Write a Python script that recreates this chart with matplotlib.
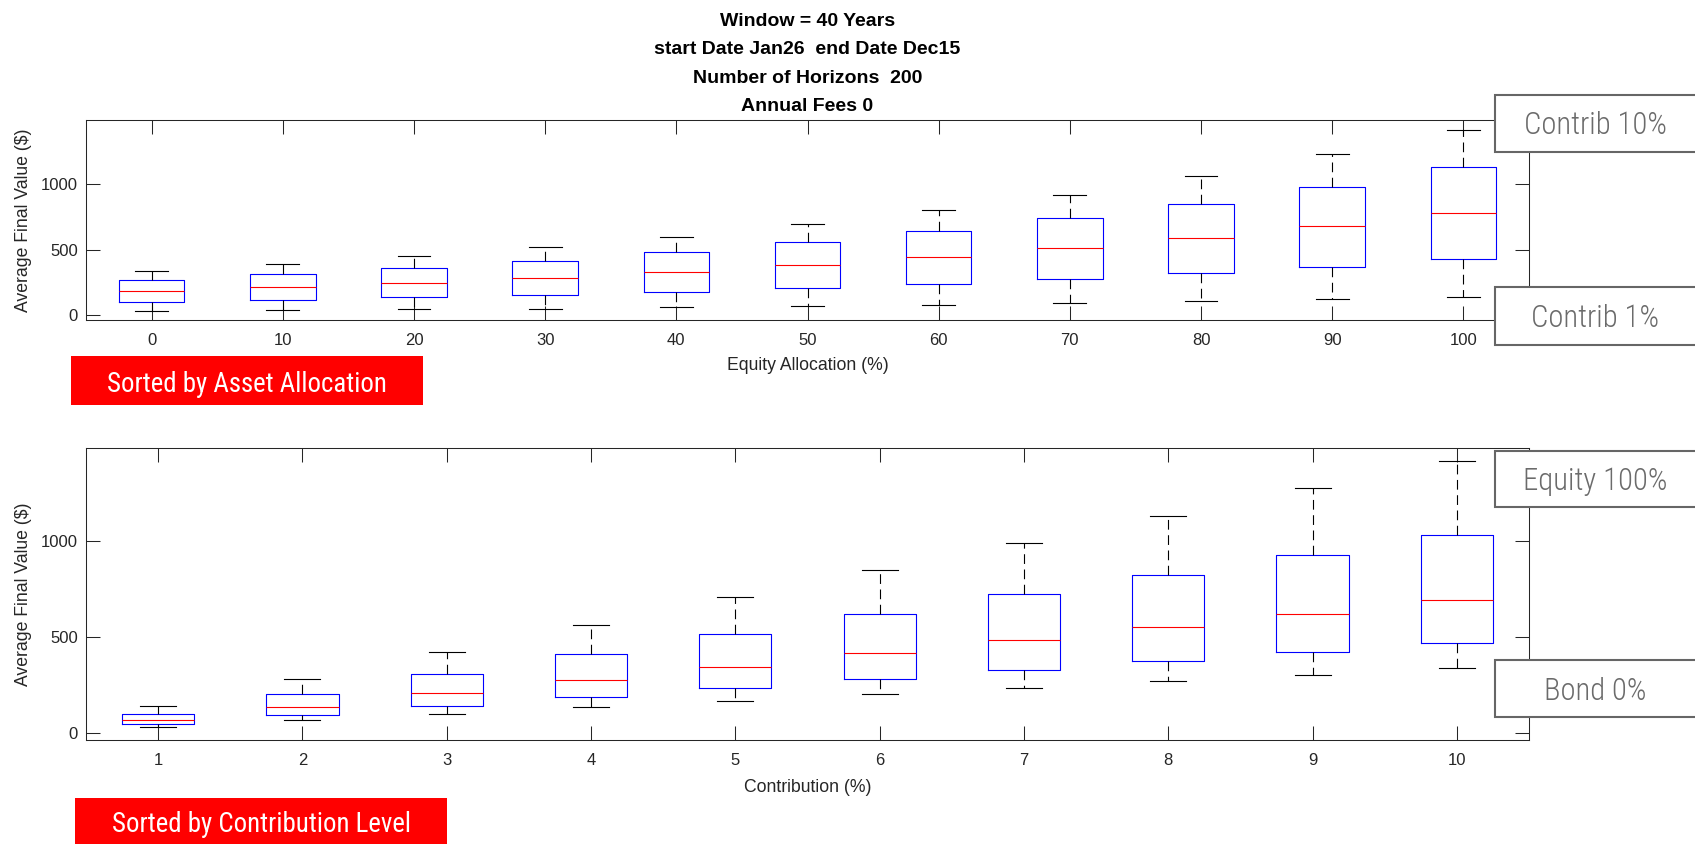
import matplotlib
matplotlib.use('Agg')
from matplotlib import pyplot as plt
from matplotlib import font_manager
from matplotlib.patches import Rectangle

plt.rcParams['font.family'] = ['Liberation Sans', 'DejaVu Sans']
plt.rcParams['lines.scale_dashes'] = False

# equity allocation panel
alloc_labels = ['0', '10', '20', '30', '40', '50', '60', '70', '80', '90', '100']
alloc_whishi = [340, 394, 453, 520, 599, 693, 802, 921, 1066, 1231, 1414]
alloc_q3 = [272, 313, 361, 416, 480, 556, 640, 739, 850, 982, 1129]
alloc_med = [188, 216, 249, 286, 330, 381, 442, 510, 586, 678, 777]
alloc_q1 = [104, 117, 137, 157, 180, 206, 241, 276, 320, 368, 426]
alloc_whislo = [35, 40, 46, 50, 61, 68, 78, 94, 107, 124, 142]

# contribution panel
contrib_labels = ['1', '2', '3', '4', '5', '6', '7', '8', '9', '10']
contrib_whishi = [142, 282, 424, 565, 707, 848, 990, 1130, 1272, 1414]
contrib_q3 = [102, 204, 307, 411, 515, 619, 721, 823, 926, 1028]
contrib_med = [69, 138, 208, 277, 345, 416, 484, 553, 622, 692]
contrib_q1 = [47, 94, 140, 187, 234, 281, 328, 374, 421, 468]
contrib_whislo = [34, 68, 100, 135, 170, 203, 237, 272, 305, 338]

W, H = 1695, 844
fig = plt.figure(figsize=(W / 100, H / 100), dpi=100)
dark = '#262626'


def px_box(x0, y0, x1, y1):
    # pixel box (from top-left) -> figure fraction
    return [x0 / W, 1 - y1 / H, (x1 - x0) / W, (y1 - y0) / H]


def draw_panel(ax, labels, lo, q1, med, q3, hi, ylim, xlabel):
    stats = [dict(whislo=a, q1=b, med=c, q3=d, whishi=e, fliers=[])
             for a, b, c, d, e in zip(lo, q1, med, q3, hi)]
    pos = list(range(1, len(labels) + 1))
    ax.bxp(stats, positions=pos, widths=0.5, capwidths=0.25, showfliers=False,
           boxprops=dict(color='blue', linewidth=0.8),
           medianprops=dict(color='red', linewidth=0.8),
           whiskerprops=dict(color='black', linewidth=0.8, linestyle=(0, (7, 4))),
           capprops=dict(color='black', linewidth=0.8))
    ax.set_xticks(pos, labels)
    ax.set_xlim(0.5, len(labels) + 0.5)
    ax.set_ylim(*ylim)
    ax.set_yticks([0, 500, 1000])
    ax.tick_params(direction='in', length=10.4, width=0.75, colors=dark,
                   top=True, right=True, labelsize=12)
    ax.tick_params(axis='x', pad=9.5)
    ax.tick_params(axis='y', pad=6)
    for s in ax.spines.values():
        s.set_linewidth(0.75)
        s.set_color(dark)
    ax.set_xlabel(xlabel, fontsize=12.7, color=dark, labelpad=6)
    ax.set_ylabel('Average Final Value ($)', fontsize=12.7, color=dark, labelpad=6.5)


ax1 = fig.add_axes(px_box(86, 120, 1529, 320))
draw_panel(ax1, alloc_labels, alloc_whislo, alloc_q1, alloc_med, alloc_q3, alloc_whishi,
           (-36, 1490), 'Equity Allocation (%)')
ax1.set_title('Window = 40 Years\nstart Date Jan26  end Date Dec15\n'
              'Number of Horizons  200\nAnnual Fees 0',
              fontsize=14, fontweight='bold', linespacing=1.88, pad=6.5)

ax2 = fig.add_axes(px_box(86, 448, 1529, 740))
draw_panel(ax2, contrib_labels, contrib_whislo, contrib_q1, contrib_med, contrib_q3,
           contrib_whishi, (-35, 1482), 'Contribution (%)')
ax2.xaxis.labelpad = 7.5

# pick a narrow face if there is one, then size it to the reference widths
have = {f.name for f in font_manager.fontManager.ttflist}
narrow = 'Liberation Sans'
for name in ['Roboto Condensed', 'Liberation Sans Narrow', 'DejaVu Sans Condensed',
             'Open Sans Condensed', 'Roboto']:
    if name in have:
        narrow = name
        break
renderer = fig.canvas.get_renderer()


def fit_size(text, target_px, weight='normal', base=20):
    t = fig.text(0, 0, text, fontsize=base, family=[narrow, 'DejaVu Sans'],
                 fontweight=weight)
    w = t.get_window_extent(renderer).width
    t.remove()
    return base * target_px / w


gray_size = fit_size('Contrib 10%', 143, 'light')
red_size = fit_size('Sorted by Asset Allocation', 279)

# gray tags on the right
for text, y0, y1 in [('Contrib 10%', 95, 152), ('Contrib 1%', 287, 345),
                     ('Equity 100%', 451, 507), ('Bond 0%', 660, 717)]:
    fig.add_artist(Rectangle(px_box(1495, y0, 1699, y1)[:2], 204 / W, (y1 - y0) / H,
                             transform=fig.transFigure, facecolor='white',
                             edgecolor='#666666', linewidth=1.5, zorder=5))
    fig.text(1595 / W, 1 - ((y0 + y1) / 2 + 2.5) / H, text, ha='center', va='center',
             fontsize=gray_size, color='#6b6b6b', family=[narrow, 'DejaVu Sans'],
             fontweight='light', zorder=6)

# red tags under the panels
for text, x0, x1, y0, y1 in [('Sorted by Asset Allocation', 71, 423, 356, 405),
                             ('Sorted by Contribution Level', 75, 447, 798, 846)]:
    fig.add_artist(Rectangle(px_box(x0, y0, x1, y1)[:2], (x1 - x0) / W, (y1 - y0) / H,
                             transform=fig.transFigure, facecolor='#ff0000',
                             edgecolor='none', zorder=5))
    yc = (y0 + min(y1, H)) / 2 + 3.5
    fig.text((x0 + x1) / 2 / W, 1 - yc / H, text, ha='center', va='center',
             fontsize=red_size, color='white', family=[narrow, 'DejaVu Sans'], zorder=6)

plt.savefig('out.png', dpi=100)
plt.close()
